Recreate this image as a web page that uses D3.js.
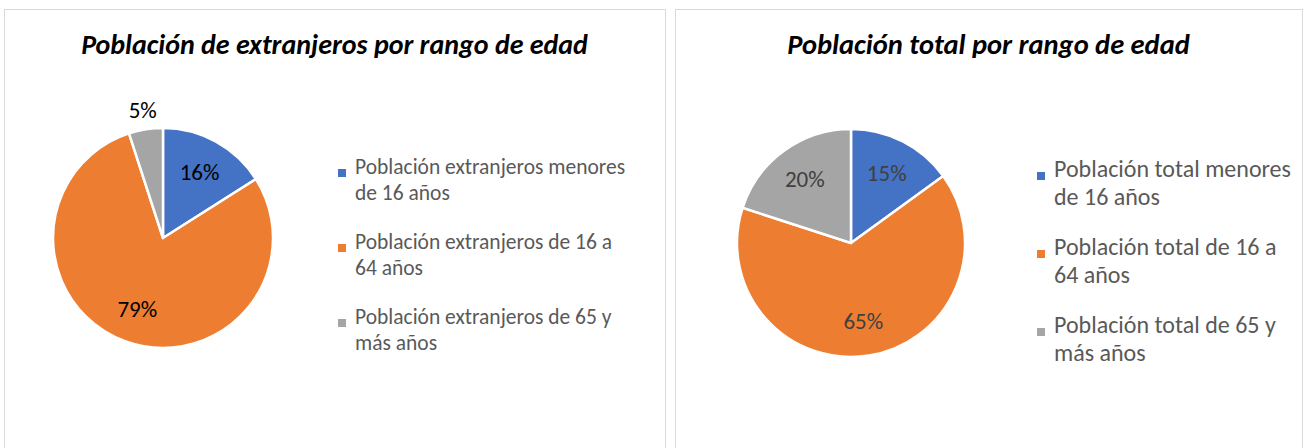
<!DOCTYPE html>
<html>
<head>
<meta charset="utf-8">
<script src="https://cdn.jsdelivr.net/npm/d3@7"></script>
<style>
  body { margin: 0; background: #fff; }
  text { font-family: Carlito, Lato, "Open Sans", sans-serif; }
</style>
</head>
<body>
<script>
const width = 1304, height = 448;

// data
const titleLeft = "Población de extranjeros por rango de edad";
const catsLeft = ["Población extranjeros menores de 16 años",
                  "Población extranjeros de 16 a 64 años",
                  "Población extranjeros de 65 y más años"];
const valsLeft = [16, 79, 5];

const titleRight = "Población total por rango de edad";
const catsRight = ["Población total menores de 16 años",
                   "Población total de 16 a 64 años",
                   "Población total de 65 y más años"];
const valsRight = [15, 65, 20];

const colors = ["#4472C4", "#ED7D31", "#A5A5A5"];

const svg = d3.select("body").append("svg")
  .attr("width", width)
  .attr("height", height);

// wrap text into tspans up to maxW
function wrap(textSel, maxW, lineH) {
  textSel.each(function() {
    const t = d3.select(this);
    const words = t.text().split(" ");
    const x = t.attr("x");
    t.text(null);
    let line = [];
    let ts = t.append("tspan").attr("x", x).attr("dy", 0);
    words.forEach(w => {
      line.push(w);
      ts.text(line.join(" "));
      if (ts.node().getComputedTextLength() > maxW && line.length > 1) {
        line.pop();
        ts.text(line.join(" "));
        line = [w];
        ts = t.append("tspan").attr("x", x).attr("dy", lineH).text(w);
      }
    });
  });
}

function drawPanel(o) {
  const g = svg.append("g");

  g.append("rect")
    .attr("x", o.x0 + 0.5).attr("y", 9.5)
    .attr("width", o.x1 - o.x0).attr("height", 460)
    .attr("fill", "#fff")
    .attr("stroke", "#D9D9D9");

  g.append("text")
    .attr("x", (o.x0 + o.x1) / 2)
    .attr("y", 54)
    .attr("text-anchor", "middle")
    .attr("font-size", o.titleSize)
    .attr("font-weight", "bold")
    .attr("font-style", "italic")
    .attr("fill", "#000")
    .text(o.title);

  const pie = d3.pie().sort(null).value(d => d);
  const arcs = pie(o.vals);
  const arc = d3.arc().innerRadius(0).outerRadius(o.r);
  const lab = d3.arc().innerRadius(o.r * 0.69).outerRadius(o.r * 0.69);
  const out = d3.arc().innerRadius(o.r * 1.18).outerRadius(o.r * 1.18);

  const pg = g.append("g").attr("transform", `translate(${o.cx},${o.cy})`);

  pg.selectAll("path")
    .data(arcs)
    .enter()
    .append("path")
    .attr("d", arc)
    .attr("fill", (d, i) => colors[i])
    .attr("stroke", "#fff")
    .attr("stroke-width", 2.5)
    .attr("stroke-linejoin", "round");

  pg.selectAll("text.lab")
    .data(arcs)
    .enter()
    .append("text")
    .attr("class", "lab")
    .attr("transform", d => {
      const small = (d.endAngle - d.startAngle) < 0.4;
      const c = small ? out.centroid(d) : lab.centroid(d);
      return `translate(${c[0]},${c[1]})`;
    })
    .attr("text-anchor", "middle")
    .attr("dy", "0.35em")
    .attr("font-size", o.labSize)
    .attr("fill", o.labColor)
    .text(d => d.data + "%");

  const leg = g.append("g");
  const items = leg.selectAll("g")
    .data(o.cats)
    .enter()
    .append("g")
    .attr("transform", (d, i) => `translate(0,${o.legY + i * o.legStep})`);

  items.append("rect")
    .attr("x", o.legX - 17)
    .attr("y", -4)
    .attr("width", 8).attr("height", 8)
    .attr("fill", (d, i) => colors[i]);

  items.append("text")
    .attr("x", o.legX)
    .attr("y", o.textShift)
    .attr("dy", "0.35em")
    .attr("font-size", o.legSize)
    .attr("fill", "#595959")
    .text(d => d)
    .call(wrap, o.legW, o.lineH);
}

drawPanel({
  x0: 4, x1: 665, title: titleLeft, titleSize: 28, cats: catsLeft, vals: valsLeft,
  cx: 163, cy: 238, r: 110, labSize: 23, labColor: "#000",
  legX: 355, legY: 173, legStep: 75, legSize: 21.5, legW: 276, lineH: 25.5, textShift: 1
});

drawPanel({
  x0: 675, x1: 1302, title: titleRight, titleSize: 28.5, cats: catsRight, vals: valsRight,
  cx: 851, cy: 243, r: 114, labSize: 23, labColor: "#404040",
  legX: 1054, legY: 176, legStep: 78, legSize: 24, legW: 252, lineH: 28, textShift: 0.5
});
</script>
</body>
</html>
